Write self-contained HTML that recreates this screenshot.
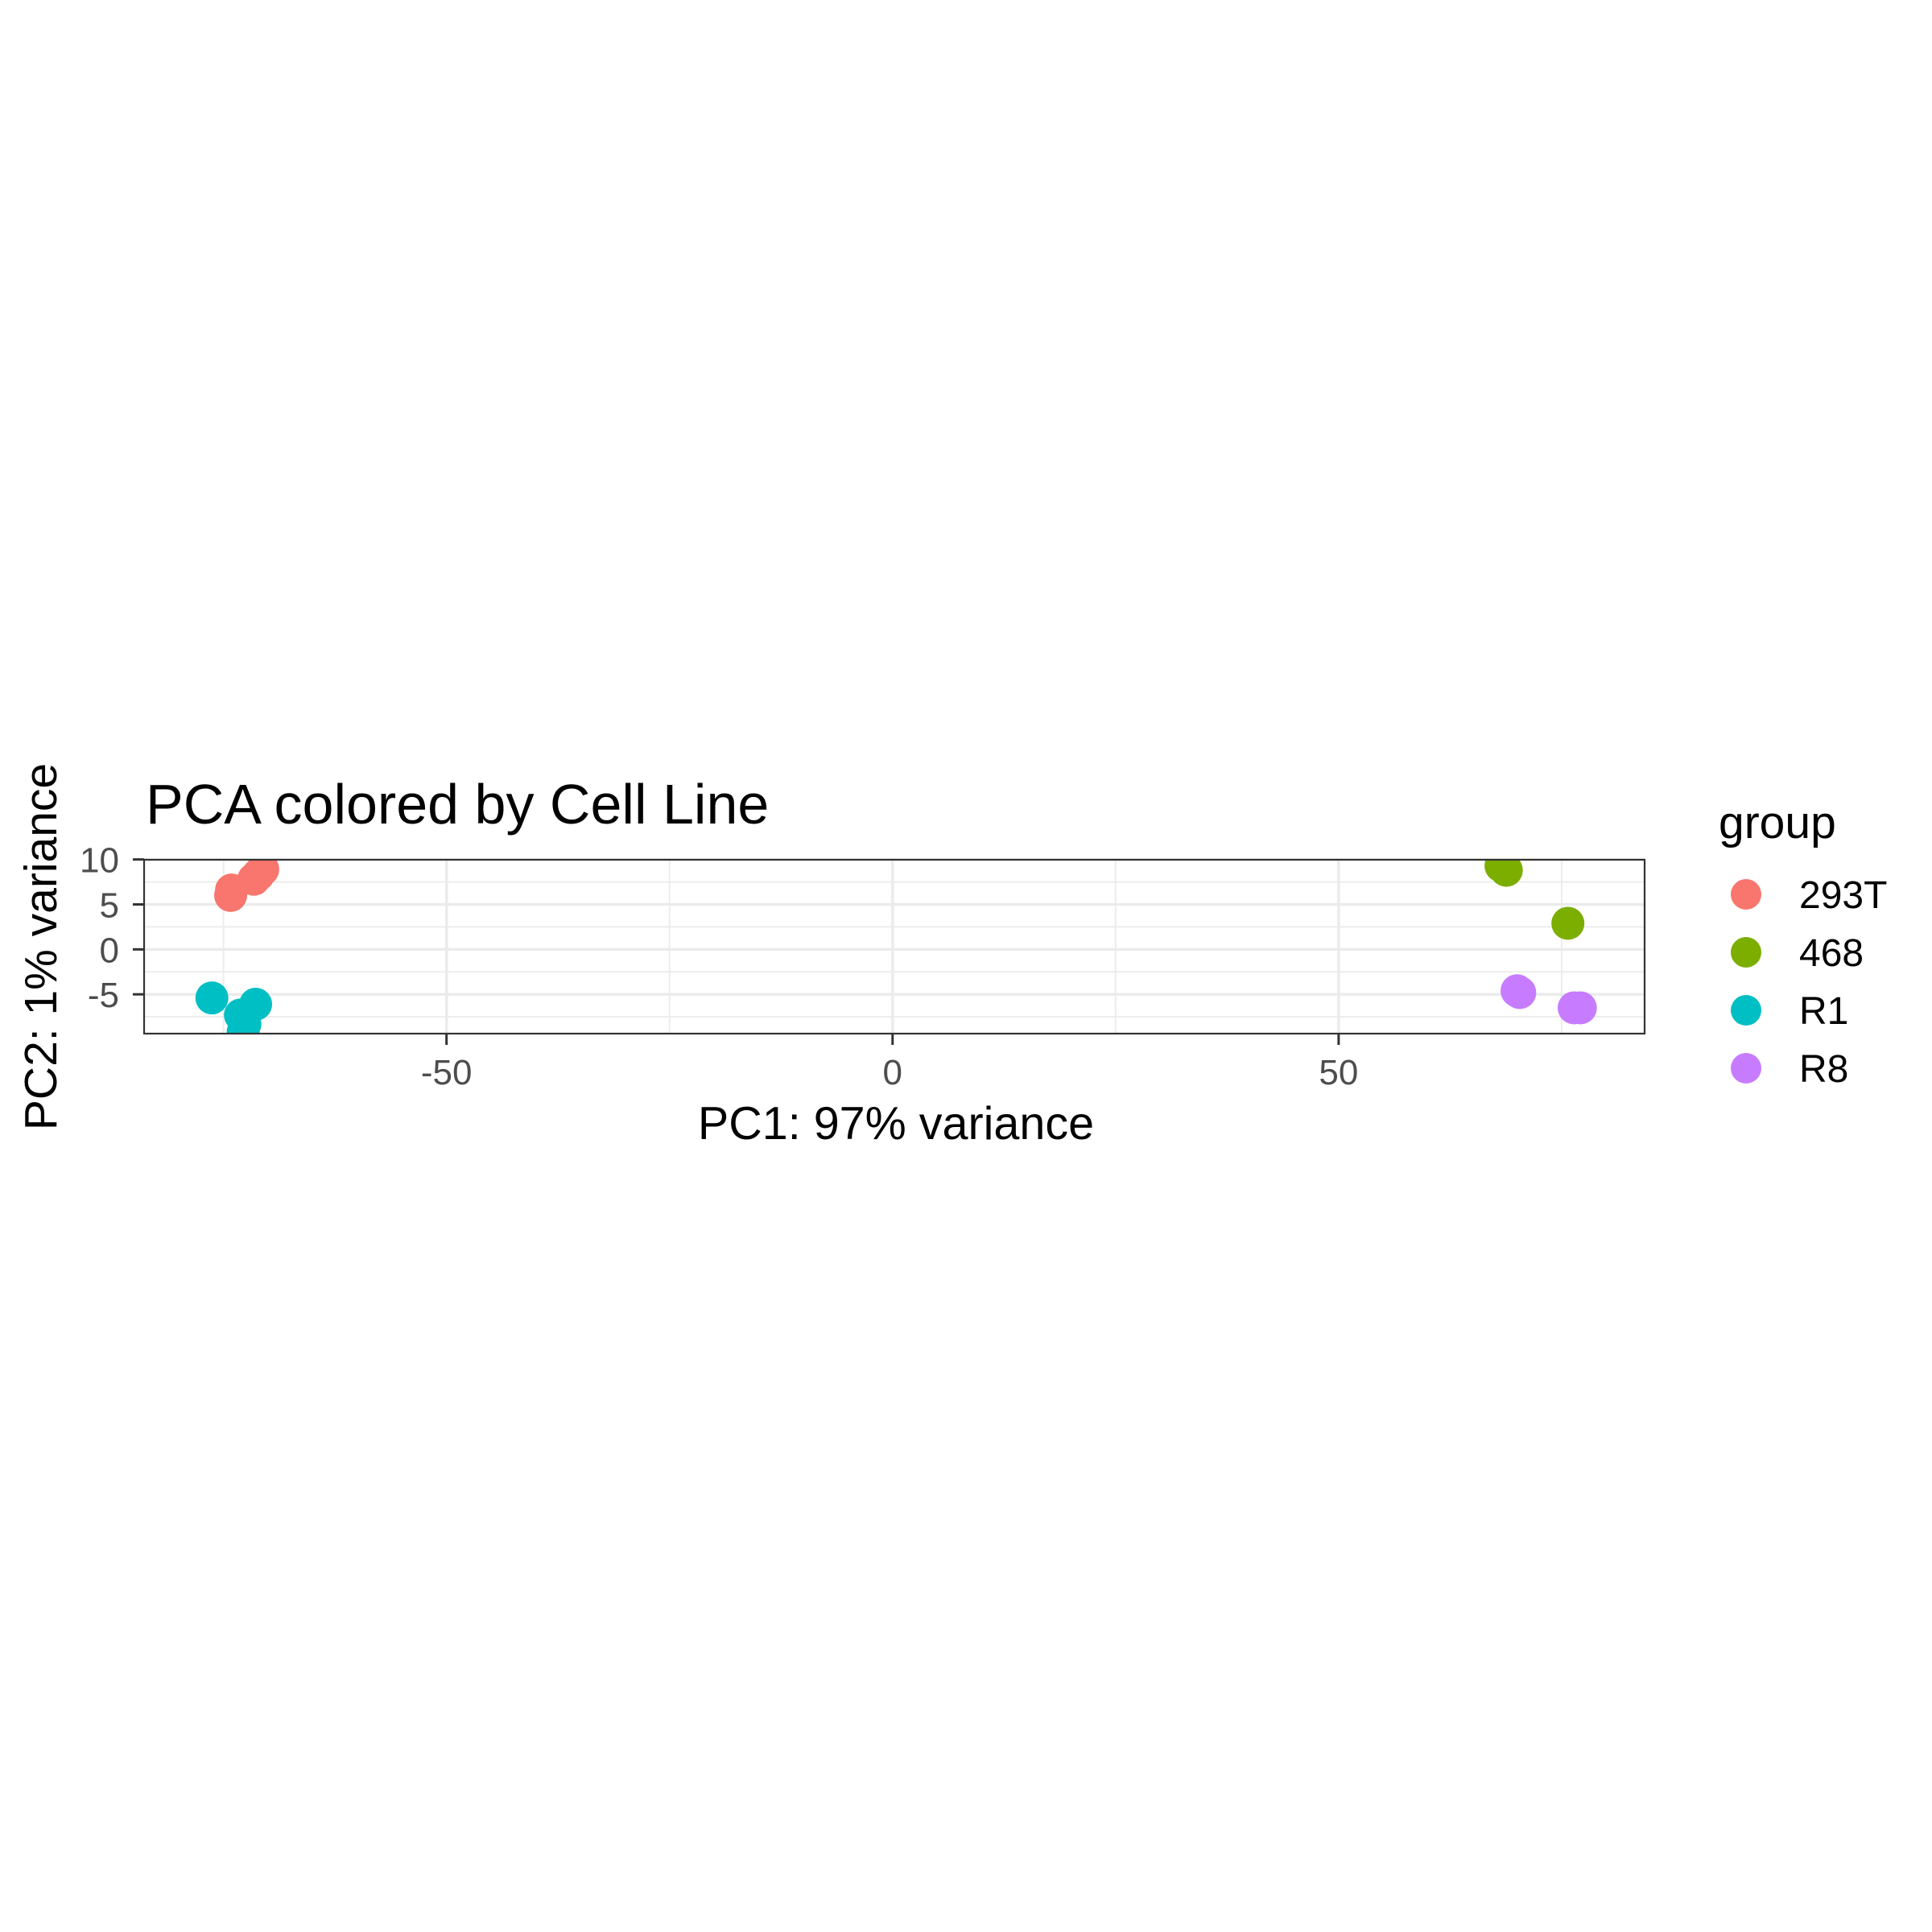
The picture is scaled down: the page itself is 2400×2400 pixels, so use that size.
<!DOCTYPE html>
<html><head><meta charset="utf-8"><style>
html,body{margin:0;padding:0;background:#fff;}
svg{display:block;font-family:"Liberation Sans",Arial,sans-serif;}
</style></head><body>
<svg id="chart" width="2400" height="2400" viewBox="0 0 2400 2400">
<rect width="2400" height="2400" fill="#fff"/>
<defs><clipPath id="pc"><rect x="179" y="1068" width="1864" height="216"/></clipPath></defs>
<g id="grid"></g>
<g id="points" clip-path="url(#pc)"></g>
<rect x="179" y="1068" width="1864" height="216" fill="none" stroke="#333" stroke-width="2.2"/>
<g id="axes"></g>
<text x="181" y="1023" font-size="70" fill="#000">PCA colored by Cell Line</text>
<text x="1113" y="1415" font-size="57.5" text-anchor="middle" fill="#000">PC1: 97% variance</text>
<text transform="translate(70,1176) rotate(-90)" font-size="57" text-anchor="middle" fill="#000">PC2: 1% variance</text>
<g id="legend"></g>
</svg>
<script>
const groups = ["293T","468","R1","R8"];
const colors = ["#F8766D","#7CAE00","#00BFC4","#C77CFF"];
const ptGroup = [0,0,0,0,0, 1,1,1, 2,2,2,2,2, 3,3,3,3];
const pc1 = [-74.2,-74.1,-71.6,-71.1,-70.6, 68.2,68.8,75.7, -76.3,-71.4,-73.1,-72.6,-72.8, 70.0,70.3,76.4,77.1];
const pc2 = [6.0,6.6,7.8,8.3,8.9, 9.3,8.8,2.9, -5.4,-6.1,-7.3,-8.3,-9.2, -4.6,-4.8,-6.5,-6.5];
const xTicks = [-50,0,50];
const xMinor = [-75,-25,25,75];
const yTicks = [-5,0,5,10];
const yMinor = [-7.5,-2.5,2.5,7.5];
const X0=179,X1=2043,Y0=1068,Y1=1284;
const xDom=[-83.9,84.3], yDom=[-9.37,9.97];
function sx(v){return X0+(v-xDom[0])/(xDom[1]-xDom[0])*(X1-X0);}
function sy(v){return Y1-(v-yDom[0])/(yDom[1]-yDom[0])*(Y1-Y0);}
const NS="http://www.w3.org/2000/svg";
function mk(t,a,p){const e=document.createElementNS(NS,t);for(const k in a)e.setAttribute(k,a[k]);p.appendChild(e);return e;}
const grid=document.getElementById('grid'),axes=document.getElementById('axes'),pts=document.getElementById('points'),leg=document.getElementById('legend');
xMinor.forEach(v=>{const x=sx(v);if(x>X0&&x<X1){const l=mk('line',{x1:x,x2:x,y1:Y0,y2:Y1,stroke:'#ebebeb','stroke-width':1.8},grid);

}});
yMinor.forEach(v=>{const y=sy(v);const l=mk('line',{x1:X0,x2:X1,y1:y,y2:y,stroke:'#ebebeb','stroke-width':1.8},grid);

});
xTicks.forEach(v=>{const x=sx(v);const l=mk('line',{x1:x,x2:x,y1:Y0,y2:Y1,stroke:'#ebebeb','stroke-width':3.5},grid);


const t=mk('line',{x1:x,x2:x,y1:Y1,y2:Y1+14,stroke:'#333','stroke-width':3},axes);


const tx=mk('text',{x:x,y:1347,'font-size':44,'text-anchor':'middle',fill:'#4d4d4d'},axes);tx.textContent=v;

});
yTicks.forEach(v=>{const y=sy(v);const l=mk('line',{x1:X0,x2:X1,y1:y,y2:y,stroke:'#ebebeb','stroke-width':3.5},grid);


const t=mk('line',{x1:X0-14,x2:X0,y1:y,y2:y,stroke:'#333','stroke-width':3},axes);


const tx=mk('text',{x:148,y:y+16,'font-size':44,'text-anchor':'end',fill:'#4d4d4d'},axes);tx.textContent=v;

});
pc1.forEach((v,i)=>{const c=mk('circle',{cx:sx(v),cy:sy(pc2[i]),r:20.5,fill:colors[ptGroup[i]]},pts);

});
const lt=mk('text',{x:2135,y:1041,'font-size':57,fill:'#000'},leg);lt.textContent='group';


groups.forEach((g,i)=>{const y=1111+i*72;
const c=mk('circle',{cx:2169,cy:y,r:19,fill:colors[i]},leg);


const t=mk('text',{x:2235,y:y+17,'font-size':48,fill:'#000'},leg);t.textContent=g;

});
</script>
</body></html>
